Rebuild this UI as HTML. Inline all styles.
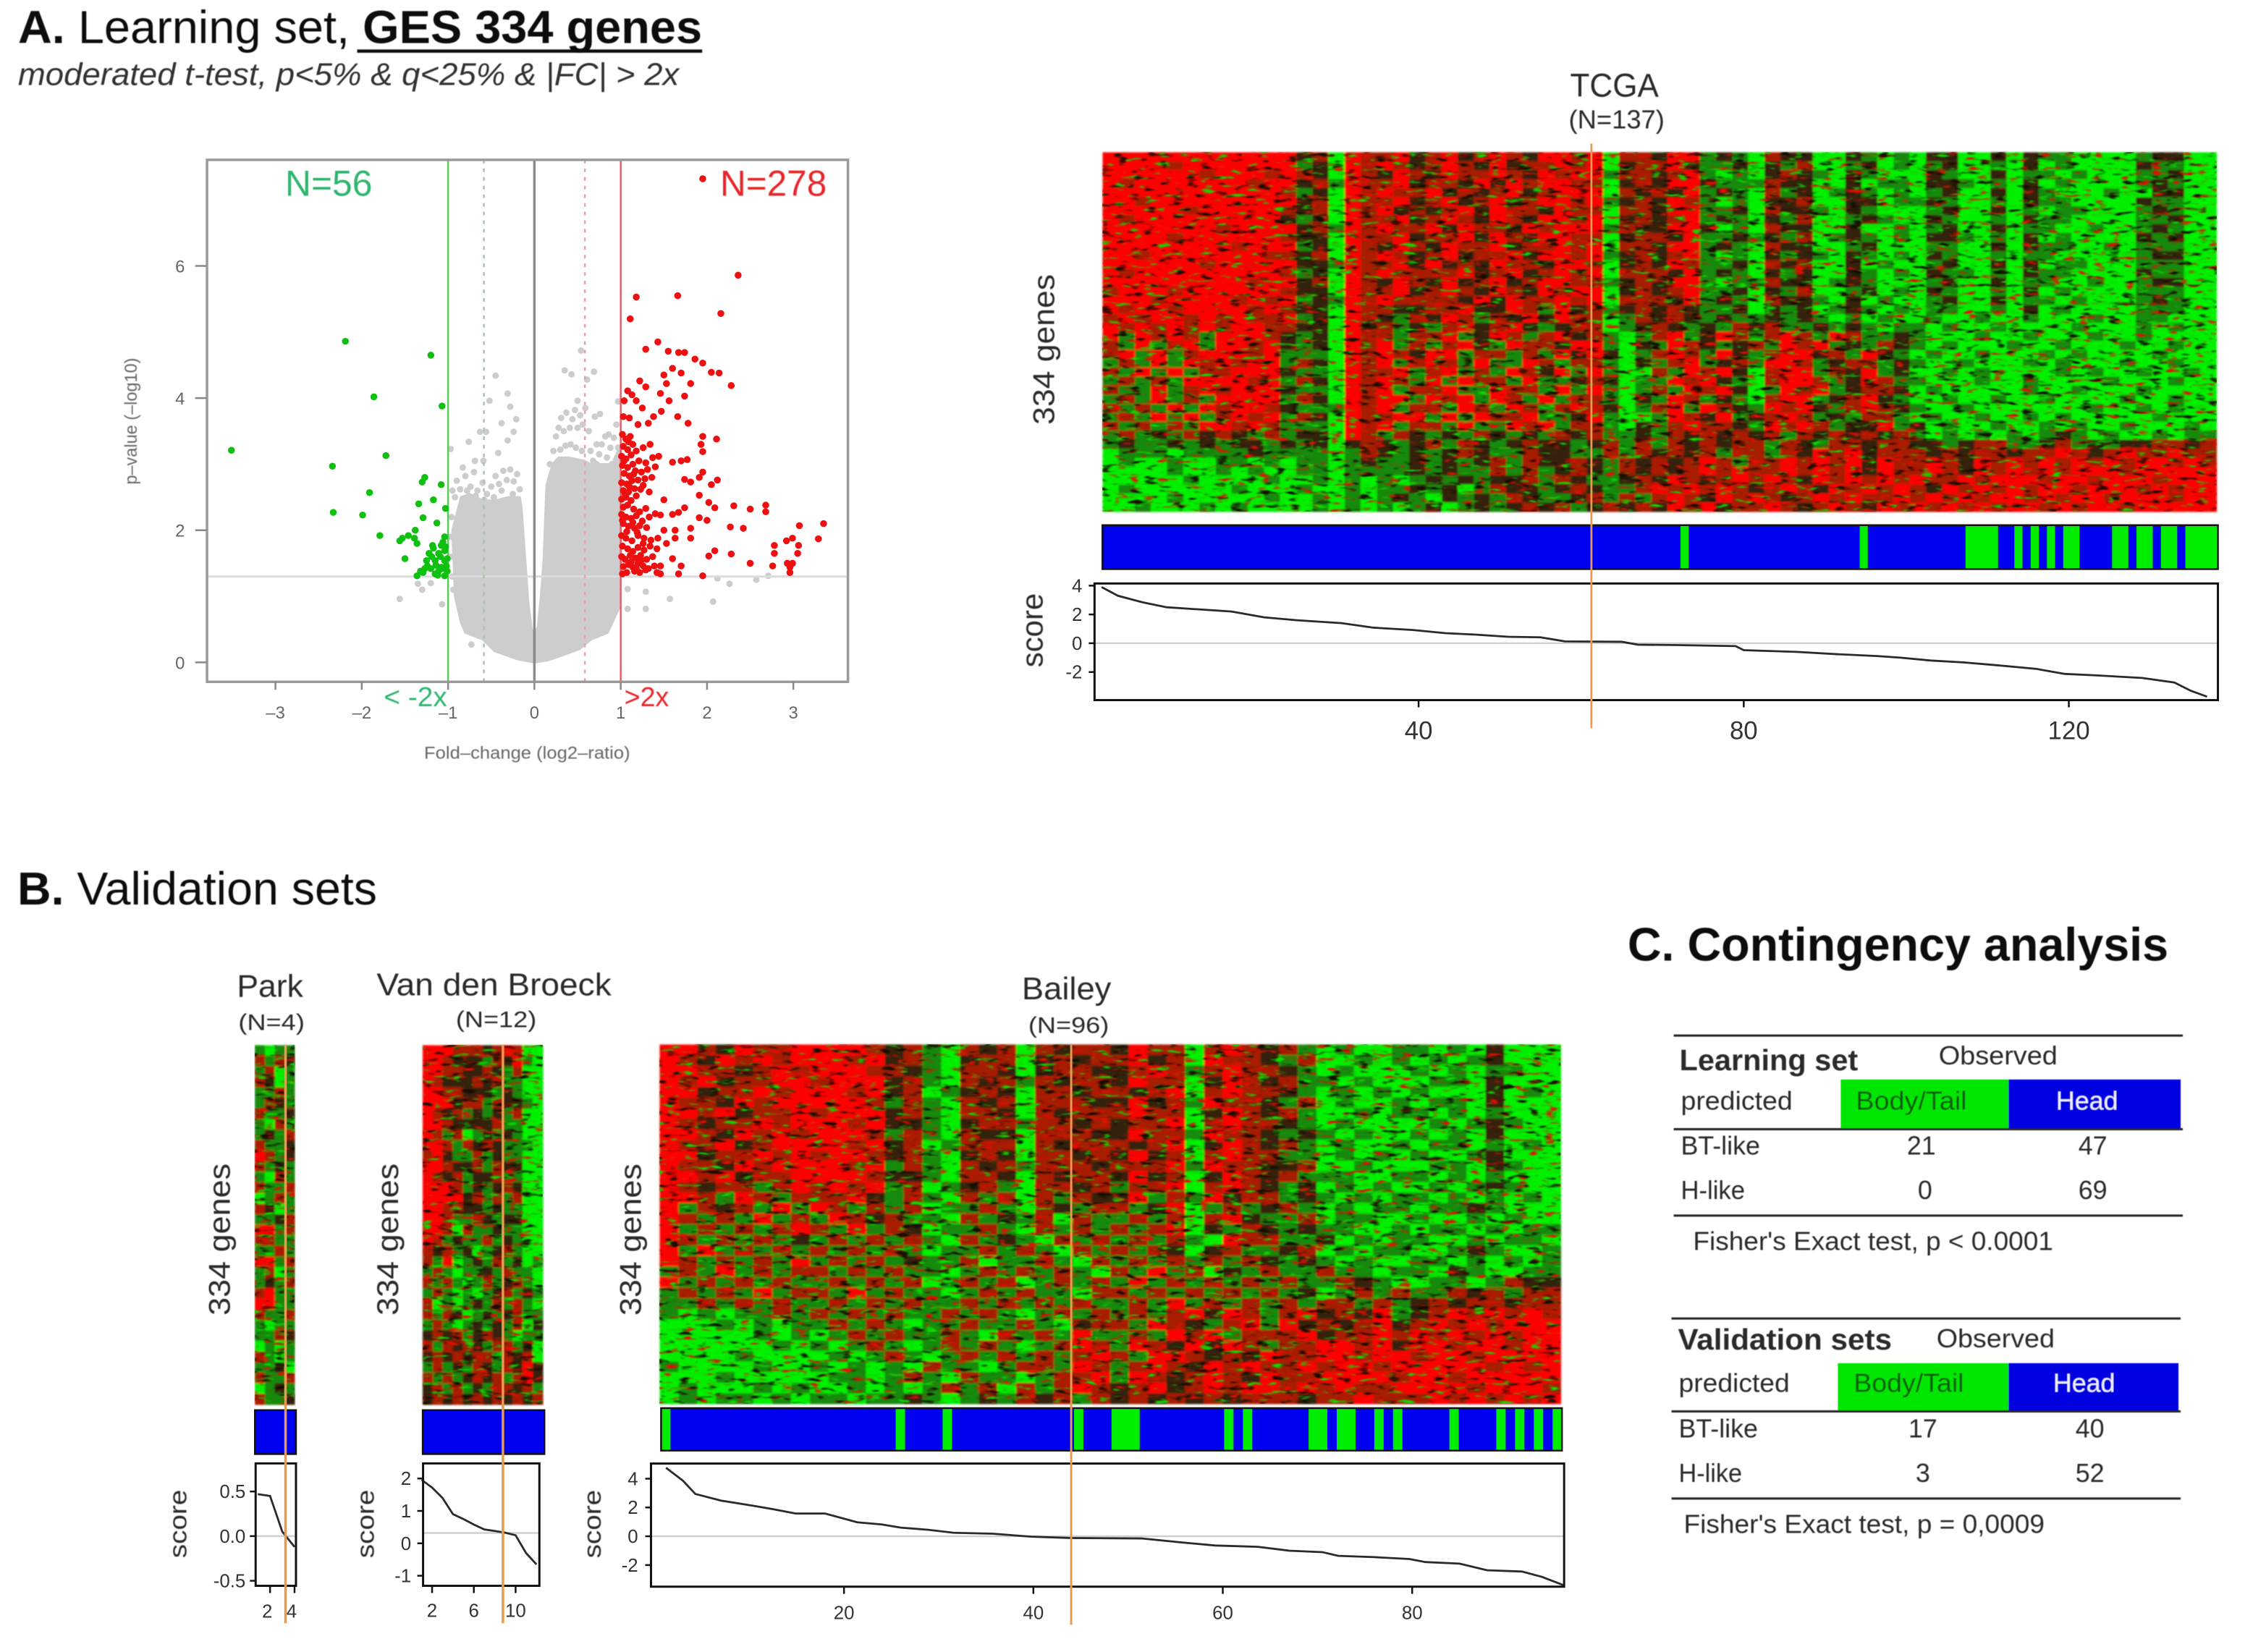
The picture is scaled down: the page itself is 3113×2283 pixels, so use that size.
<!DOCTYPE html>
<html lang="en">
<head>
<meta charset="utf-8">
<title>GES 334 genes figure</title>
<style>
html,body{margin:0;padding:0;background:#fff;width:3113px;height:2283px;overflow:hidden}
svg{display:block}
text{font-family:"Liberation Sans",Arial,sans-serif}
</style>
</head>
<body>
<svg id="figure" xmlns="http://www.w3.org/2000/svg" width="3113" height="2283" viewBox="0 0 3113 2283" fill="#2a2a2a">
<defs>
<filter id="soft" x="-1%" y="-1%" width="102%" height="102%"><feGaussianBlur stdDeviation="1.3"/></filter>
<filter id="softText" x="-2%" y="-5%" width="104%" height="110%"><feGaussianBlur stdDeviation="0.6"/></filter>
<filter id="speckDark" x="0" y="0" width="100%" height="100%" color-interpolation-filters="sRGB"><feTurbulence type="fractalNoise" baseFrequency="0.05 0.16" numOctaves="2" seed="3"/><feColorMatrix type="matrix" values="0 0 0 0 0.08  0 0 0 0 0.05  0 0 0 0 0  5 0 0 0 -2.95"/><feGaussianBlur stdDeviation="0.8"/></filter>
<filter id="speckGreen" x="0" y="0" width="100%" height="100%" color-interpolation-filters="sRGB"><feTurbulence type="fractalNoise" baseFrequency="0.05 0.16" numOctaves="2" seed="11"/><feColorMatrix type="matrix" values="0 0 0 0 0.05  0 0 0 0 0.85  0 0 0 0 0  5 0 0 0 -3.05"/><feGaussianBlur stdDeviation="0.8"/></filter>
<filter id="speckRed" x="0" y="0" width="100%" height="100%" color-interpolation-filters="sRGB"><feTurbulence type="fractalNoise" baseFrequency="0.05 0.16" numOctaves="2" seed="23"/><feColorMatrix type="matrix" values="0 0 0 0 0.9  0 0 0 0 0.05  0 0 0 0 0  5 0 0 0 -3.0"/><feGaussianBlur stdDeviation="0.8"/></filter>
</defs>
<rect width="3113" height="2283" fill="#fff"/>

<g id="plots"></g>

<g filter="url(#softText)">
<g transform="matrix(.995 0 0 .995 0 0)">
<text x="25" y="60" font-size="64" fill="#111" textLength="950" lengthAdjust="spacingAndGlyphs"><tspan font-weight="700">A.</tspan> Learning set, <tspan font-weight="700">GES 334 genes</tspan></text>
<line x1="496" y1="71" x2="975" y2="71" stroke="#111" stroke-width="4.5"/>
<text x="25" y="118" font-size="44" font-style="italic" fill="#333" textLength="918" lengthAdjust="spacingAndGlyphs">moderated  t-test, p&lt;5%  &amp; q&lt;25%  &amp; |FC|  &gt; 2x</text>
<text x="396" y="272" font-size="50" fill="#2fb56e" textLength="121" lengthAdjust="spacingAndGlyphs">N=56</text>
<text x="1000" y="272" font-size="50" fill="#e8262a" textLength="148" lengthAdjust="spacingAndGlyphs">N=278</text>
<text x="533" y="981" font-size="38" fill="#2fb56e" textLength="88" lengthAdjust="spacingAndGlyphs">&lt; -2x</text>
<text x="867" y="981" font-size="38" fill="#e8262a" textLength="62" lengthAdjust="spacingAndGlyphs">&gt;2x</text>
<text x="732" y="1054" font-size="24" text-anchor="middle" fill="#666" textLength="286" lengthAdjust="spacingAndGlyphs">Fold–change (log2–ratio)</text>
<text transform="translate(190 585) rotate(-90)" font-size="24" text-anchor="middle" fill="#666" textLength="176" lengthAdjust="spacingAndGlyphs">p–value (–log10)</text>
</g>

<g transform="matrix(.995 0 0 .995 6.9 .4)">
<text x="2235" y="134" font-size="46" text-anchor="middle" textLength="123" lengthAdjust="spacingAndGlyphs">TCGA</text>
<text x="2238" y="178" font-size="36" text-anchor="middle" textLength="133" lengthAdjust="spacingAndGlyphs">(N=137)</text>
<text transform="translate(1457 485) rotate(-90)" font-size="42" text-anchor="middle" textLength="209" lengthAdjust="spacingAndGlyphs">334  genes</text>
<text transform="translate(1441 875) rotate(-90)" font-size="42" text-anchor="middle" textLength="103" lengthAdjust="spacingAndGlyphs">score</text>
</g>

<text x="24" y="1250" font-size="64" fill="#111" textLength="497" lengthAdjust="spacingAndGlyphs"><tspan font-weight="700">B.</tspan> Validation sets</text>

<g transform="matrix(.995 0 0 .995 1 6.5)">
<text x="374" y="1378" font-size="44" text-anchor="middle" textLength="92" lengthAdjust="spacingAndGlyphs">Park</text>
<text x="376" y="1424" font-size="32" text-anchor="middle" textLength="92" lengthAdjust="spacingAndGlyphs">(N=4)</text>
<text transform="translate(318 1715) rotate(-90)" font-size="42" text-anchor="middle" textLength="211" lengthAdjust="spacingAndGlyphs">334  genes</text>
<text transform="translate(258 2110) rotate(-90)" font-size="34" text-anchor="middle" textLength="95" lengthAdjust="spacingAndGlyphs">score</text>
<text x="685" y="1376" font-size="44" text-anchor="middle" textLength="326" lengthAdjust="spacingAndGlyphs">Van den Broeck</text>
<text x="688" y="1420" font-size="32" text-anchor="middle" textLength="112" lengthAdjust="spacingAndGlyphs">(N=12)</text>
<text transform="translate(552 1715) rotate(-90)" font-size="42" text-anchor="middle" textLength="211" lengthAdjust="spacingAndGlyphs">334  genes</text>
<text transform="translate(518 2110) rotate(-90)" font-size="34" text-anchor="middle" textLength="95" lengthAdjust="spacingAndGlyphs">score</text>
</g>

<g transform="matrix(.995 0 0 .995 4 6.7)">
<text x="1477" y="1381" font-size="44" text-anchor="middle" textLength="124" lengthAdjust="spacingAndGlyphs">Bailey</text>
<text x="1480" y="1428" font-size="32" text-anchor="middle" textLength="112" lengthAdjust="spacingAndGlyphs">(N=96)</text>
<text transform="translate(886 1715) rotate(-90)" font-size="42" text-anchor="middle" textLength="211" lengthAdjust="spacingAndGlyphs">334  genes</text>
<text transform="translate(830 2110) rotate(-90)" font-size="34" text-anchor="middle" textLength="95" lengthAdjust="spacingAndGlyphs">score</text>
</g>

<g transform="matrix(.995 0 0 .995 11.1 6.3)">
<text x="2249" y="1328" font-size="65" font-weight="700" fill="#111" textLength="751" lengthAdjust="spacingAndGlyphs">C. Contingency analysis</text>

<g>
<line x1="2313" y1="1432" x2="3020" y2="1432" stroke="#222" stroke-width="3"/>
<text x="2321" y="1480" font-size="41" font-weight="700" textLength="248" lengthAdjust="spacingAndGlyphs">Learning  set</text>
<text x="2681" y="1472" font-size="36" textLength="165" lengthAdjust="spacingAndGlyphs">Observed</text>
<text x="2323" y="1535" font-size="36" textLength="155" lengthAdjust="spacingAndGlyphs">predicted</text>
<rect x="2545" y="1493" width="233" height="68" fill="#00e600"/>
<rect x="2778" y="1493" width="239" height="68" fill="#0000e0"/>
<text x="2566" y="1535" font-size="36" fill="#0a5a0a" textLength="154" lengthAdjust="spacingAndGlyphs">Body/Tail</text>
<text x="2887" y="1535" font-size="36" text-anchor="middle" fill="#eef" textLength="86" lengthAdjust="spacingAndGlyphs">Head</text>
<line x1="2313" y1="1562" x2="3020" y2="1562" stroke="#222" stroke-width="3"/>
<text x="2323" y="1597" font-size="36" textLength="110" lengthAdjust="spacingAndGlyphs">BT-like</text>
<text x="2657" y="1597" font-size="36" text-anchor="middle">21</text>
<text x="2895" y="1597" font-size="36" text-anchor="middle">47</text>
<text x="2323" y="1659" font-size="36" textLength="89" lengthAdjust="spacingAndGlyphs">H-like</text>
<text x="2662" y="1659" font-size="36" text-anchor="middle">0</text>
<text x="2895" y="1659" font-size="36" text-anchor="middle">69</text>
<line x1="2313" y1="1682" x2="3020" y2="1682" stroke="#222" stroke-width="3"/>
<text x="2340" y="1730" font-size="36" textLength="500" lengthAdjust="spacingAndGlyphs">Fisher's Exact test, p &lt;  0.0001</text>
</g>

<g>
<line x1="2310" y1="1825" x2="3017" y2="1825" stroke="#222" stroke-width="3"/>
<text x="2319" y="1868" font-size="41" font-weight="700" textLength="297" lengthAdjust="spacingAndGlyphs">Validation  sets</text>
<text x="2678" y="1865" font-size="36" textLength="164" lengthAdjust="spacingAndGlyphs">Observed</text>
<text x="2320" y="1927" font-size="36" textLength="154" lengthAdjust="spacingAndGlyphs">predicted</text>
<rect x="2541" y="1887" width="237" height="67" fill="#00e600"/>
<rect x="2778" y="1887" width="236" height="67" fill="#0000e0"/>
<text x="2563" y="1927" font-size="36" fill="#0a5a0a" textLength="153" lengthAdjust="spacingAndGlyphs">Body/Tail</text>
<text x="2883" y="1927" font-size="36" text-anchor="middle" fill="#eef" textLength="86" lengthAdjust="spacingAndGlyphs">Head</text>
<line x1="2310" y1="1954" x2="3017" y2="1954" stroke="#222" stroke-width="3"/>
<text x="2320" y="1990" font-size="36" textLength="110" lengthAdjust="spacingAndGlyphs">BT-like</text>
<text x="2659" y="1990" font-size="36" text-anchor="middle">17</text>
<text x="2891" y="1990" font-size="36" text-anchor="middle">40</text>
<text x="2320" y="2052" font-size="36" textLength="88" lengthAdjust="spacingAndGlyphs">H-like</text>
<text x="2659" y="2052" font-size="36" text-anchor="middle">3</text>
<text x="2891" y="2052" font-size="36" text-anchor="middle">52</text>
<line x1="2310" y1="2075" x2="3017" y2="2075" stroke="#222" stroke-width="3"/>
<text x="2327" y="2123" font-size="36" textLength="501" lengthAdjust="spacingAndGlyphs">Fisher's Exact test, p =  0,0009</text>
</g>
</g>
</g>
</svg>

<script>
/* ---------- chart data (values estimated by eye from the figure) ---------- */
const volcanoXTicks = [-3,-2,-1,0,1,2,3];
const volcanoYTicks = [0,2,4,6];
const foldThresholds = [-1,1];
const softThresholds = [-0.585,0.585];
const pThreshold = 1.3;

const cloudLeftX = [0,-0.2,-0.46,-0.6,-0.8,-0.85,-0.92,-0.95,-0.85,-0.75,-0.6,-0.45,-0.3,-0.17,-0.15,-0.11,-0.07,-0.03,0];
const cloudLeftY = [0,0.05,0.17,0.35,0.45,0.6,1.0,2.0,2.5,2.55,2.45,2.45,2.5,2.5,2.35,1.62,0.89,0.49,0.45];
const cloudRightX = [0,0.15,0.29,0.52,0.66,0.85,0.99,1.0,1.0,0.9,0.75,0.65,0.58,0.4,0.28,0.21,0.14,0.125,0.11,0.08,0.04,0];
const cloudRightY = [0,0.03,0.09,0.2,0.35,0.45,0.85,1.6,3.3,3.0,3.0,3.0,3.05,3.1,3.1,3.0,2.68,2.17,1.62,1.07,0.53,0.45];

const grayPoints = [[-0.45,4.34],[-0.52,3.96],[-0.31,4.07],[-0.28,3.87],[-0.21,3.68],[-0.24,3.49],[-0.56,3.49],[-0.63,3.49],[-0.76,3.34],[-0.97,3.23],[-0.38,3.62],[-0.31,3.36],[-0.42,3.17],[-0.59,3.05],[-0.69,3.05],[-0.83,2.95],[0.54,4.72],[0.35,4.42],[0.43,4.36],[0.69,4.4],[0.61,4.28],[0.5,3.96],[0.76,3.76],[0.97,3.95],[0.82,3.42],[-1.56,0.96],[-1.35,1.19],[-1.07,0.88],[1.08,1.11],[1.29,1.07],[1.08,0.81],[1.29,0.81],[1.57,0.96],[2.07,0.92],[2.12,1.27],[2.26,1.19],[2.57,1.25],[2.71,1.31],[-0.73,0.27],[-1.3,1.1],[-1.2,1.2],
[-0.95,2.6],[-0.9,2.75],[-0.86,2.62],[-0.8,2.82],[-0.74,2.66],[-0.7,2.88],[-0.66,2.6],[-0.6,2.72],[-0.55,2.55],[-0.5,2.66],[-0.45,2.82],[-0.41,2.7],[-0.36,2.9],[-0.32,2.76],[-0.28,2.92],[-0.24,2.74],[-0.2,2.85],[-0.17,2.62],[-0.92,2.5],[-0.68,2.52],[-0.58,2.46],[-0.47,2.5],[-0.96,2.2],[-0.97,1.9],[-0.96,1.6],[-0.95,1.3],[-0.94,1.1],[-0.78,2.6],[-0.25,2.55],[-0.38,2.6],
[0.22,3.2],[0.25,3.42],[0.28,3.55],[0.31,3.7],[0.34,3.5],[0.37,3.78],[0.41,3.55],[0.44,3.68],[0.47,3.82],[0.5,3.55],[0.53,3.74],[0.56,3.6],[0.59,3.85],[0.63,3.5],[0.65,3.2],[0.68,3.05],[0.72,3.0],[0.75,3.15],[0.8,2.95],[0.84,3.1],[0.88,3.25],[0.92,3.4],[0.95,3.6],[0.97,3.25],[0.9,3.0],[0.7,3.72],[0.72,3.3],[0.18,3.0],[0.23,2.95],[0.3,3.22],[0.36,3.28],[0.42,3.3],[0.48,3.25],[0.55,3.2],[0.78,3.3],[0.86,3.45]];

const greenPoints = [[-3.51,3.21],[-2.19,4.86],[-1.86,4.02],[-1.2,4.65],[-1.07,3.88],[-1.72,3.13],[-2.34,2.97],[-1.91,2.57],[-2.33,2.27],[-1.99,2.23],[-1.79,1.92],[-1.27,2.8],[-1.3,2.73],[-1.08,2.69],[-1.34,2.4],[-1.17,2.46],[-1.03,2.33],[-1.29,2.19],[-1.13,2.11],[-1.04,1.9],[-1.53,1.88],[-1.46,1.92],[-1.38,2.0],[-1.36,1.8],[-1.56,1.84],[-1.39,1.88],[-1.5,1.57],[-1.18,1.77],[-1.08,1.77],[-1.04,1.69],[-1.22,1.65],[-1.11,1.65],[-1.25,1.54],[-1.15,1.54],[-1.04,1.54],[-1.2,1.42],[-1.08,1.44],[-1.01,1.38],[-1.29,1.36],[-1.36,1.31],[-1.15,1.34],[-1.04,1.31],[-1.24,1.46],[-1.01,1.57],[-1.11,1.38],[-1.17,1.73],[-1.32,1.38],[-1.06,1.82],[-1.14,1.47],[-1.02,1.46],[-1.27,1.42],[-1.09,1.6],[-1.19,1.6],[-1.03,1.75],[-1.12,1.32],[-1.06,1.42]];

const redPoints = [[1.95,7.32],[2.36,5.86],[1.18,5.53],[1.66,5.55],[2.16,5.28],[1.11,5.2],[1.43,4.85],[1.29,4.74],[1.55,4.71],[1.67,4.69],[1.74,4.69],[1.86,4.59],[1.95,4.53],[2.05,4.39],[2.14,4.38],[2.28,4.19],[1.6,4.45],[1.5,4.35],[1.7,4.38],[1.22,4.26],[1.29,4.17],[1.53,4.22],[1.81,4.22],[1.08,4.11],[1.46,4.07],[1.56,3.96],[1.74,4.03],[1.18,3.96],[1.04,3.96],[1.13,4.05],[1.25,3.85],[1.38,3.72],[1.47,3.8],[1.32,3.62],[1.1,3.7],[1.03,3.72],[1.2,3.6],[1.66,3.72],[1.78,3.62],
[1.95,3.42],[2.11,3.38],[1.93,3.3],[1.6,3.03],[1.7,3.05],[1.77,3.07],[1.95,3.19],[1.74,2.77],[1.81,2.73],[1.91,2.8],[1.95,2.88],[2.05,2.69],[2.12,2.76],[1.91,2.53],[2.02,2.42],[2.09,2.34],[2.31,2.37],[2.5,2.32],[2.68,2.38],[2.68,2.28],[1.74,2.34],[1.67,2.27],[1.5,2.46],[1.91,2.19],[2,2.15],[1.46,2.23],[1.6,2.24],[2.27,2.05],[2.42,2.03],[3.35,2.1],[3.07,2.07],[1.81,2.03],[1.63,2],[1.5,2],[1.43,1.88],[1.63,1.88],[1.81,1.88],[1.53,1.8],[2.09,1.69],[2.02,1.61],[2.28,1.64],[2.78,1.77],[2.78,1.65],[2.92,1.84],[2.99,1.88],[3.06,1.77],[3.05,1.65],[3.29,1.87],[2.76,1.46],[2.5,1.5],[2.93,1.5],[2.99,1.5],[2.96,1.44],[2.96,1.36],[1.95,1.31],[1.67,1.34],[1.46,1.34],[1.6,1.57],[1.7,1.46],[1.46,1.46],
[1.02,3.45],[1.06,3.38],[1.11,3.42],[1.03,3.27],[1.08,3.22],[1.14,3.3],[1.01,3.12],[1.06,3.08],[1.12,3.14],[1.18,3.2],[1.26,3.25],[1.34,3.3],[1.02,2.98],[1.08,2.95],[1.14,3.0],[1.21,3.05],[1.29,3.02],[1.37,3.1],[1.44,3.12],[1.04,2.86],[1.1,2.82],[1.17,2.9],[1.24,2.88],[1.31,2.92],[1.4,2.96],[1.01,2.72],[1.07,2.7],[1.13,2.75],[1.2,2.76],[1.28,2.78],[1.36,2.8],[1.03,2.6],[1.09,2.58],[1.16,2.63],[1.23,2.62],[1.01,2.47],[1.06,2.5],[1.12,2.45],[1.03,2.35],[1.08,2.38],[1.15,2.32],[1.22,2.28],[1.29,2.33],[1.01,2.24],[1.06,2.2],[1.12,2.18],[1.18,2.22],[1.25,2.14],[1.33,2.2],[1.4,2.25],[1.03,2.1],[1.09,2.06],[1.16,2.03],[1.22,2.07],[1.3,2.04],[1.01,1.92],[1.06,1.88],[1.13,1.84],[1.2,1.92],[1.27,1.88],[1.35,1.85],[1.02,1.76],[1.08,1.72],[1.14,1.68],[1.2,1.74],[1.27,1.7],[1.34,1.76],[1.42,1.72],[1.01,1.6],[1.05,1.56],[1.11,1.62],[1.17,1.58],[1.23,1.62],[1.3,1.56],[1.37,1.6],[1.03,1.45],[1.09,1.48],[1.14,1.44],[1.2,1.5],[1.26,1.46],[1.32,1.42],[1.39,1.46],[1.02,1.34],[1.07,1.36],[1.16,1.38],[1.22,1.36],[1.29,1.4],[1.42,1.36],[1.04,3.05],[1.1,2.66],[1.18,2.52],[1.05,2.55],[1.09,3.34],[1.15,2.85],[1.26,2.68],[1.33,2.58],[1.02,2.15],[1.14,2.12],[1.07,1.98],[1.19,1.97],[1.26,1.8],[1.12,1.52],[1.24,1.55],[1.18,1.42]];

const heatValueColors = ['#00f000','#128a0c','#35230a','#a81c06','#ff0000'];

const tcgaRows = [
"4444444444 4423043342 3423432443 4033244121 0322002101 0220020211 000012200",
"4444344444 4412043432 3432423343 4023342112 0213001201 0120010201 000021100",
"4444443444 3432043243 2433432434 4133234101 0232102100 0210020110 100011200",
"4344444443 4423143342 3324243443 3023244211 1322002011 0221010201 000012100",
"4444444444 4312043433 4232342344 4032324121 0312012101 0120020210 001002200",
"4434444444 4423043342 3423423443 4123243101 0223002201 1210010211 000021100",
"4444434444 4323043423 2342433243 3033244112 0322102100 0120020101 100012100",
"4344444444 4212043342 3432432443 4023234121 0213001210 0210010211 000011200",
"4444444344 4423143433 4243324344 4132244201 0322002001 0120020110 010012100",
"4444344444 4322043342 3342432443 3023324112 1213012101 0221010201 000021200",
"4444444434 4412043243 2433423343 4033244121 0322001200 0110020211 001011100",
"4434444444 3323043432 3423342443 4123234101 0212102101 0210010110 000012200",
"4444443444 4422143342 4232433244 3023243112 0323002010 0120020201 100011100",
"4344444444 4312043433 3342342343 4033324121 0212002101 0211010211 000021100",
"4444444443 4423043243 2423423443 3123244101 1322012100 0120020110 010012200",
"3444344444 4322043342 3432432434 4023234112 0213001201 0210010201 000011100",
"4443444434 3412143433 3324243343 4033324121 0322102010 0120020110 100012100",
"4344344443 4322043322 3342243142 3123232112 0212012101 0110010201 000011100",
"3434434343 3412043213 2431324243 3013232121 1212101010 0100100100 010011000",
"4343434344 3322042312 1342342123 3012321213 2311212101 1010010000 100010100",
"4143431444 3212043313 3412431342 3101341243 1343143112 1000100100 010010000",
"3141341443 4212043413 1342143324 4102143212 3143412132 1010001001 000100100",
"3414134443 4111043432 4413313142 4201343142 1344231421 0100100010 100001000",
"1314143434 4132043413 4314114313 3102134123 1443123312 1001000101 000100100",
"3141413344 4211043341 3413143241 4100314342 0344132412 0010100001 010010010",
"1313144443 4132043431 4143314112 3201143421 0344312431 1000100100 001000100",
"3114134344 4211043413 3411433141 4101314342 0143412332 0100000100 100010000",
"1314131444 4132043441 4341431413 3102143121 0344123421 0010010010 000100100",
"3131414344 3211143413 3143143134 3201341432 1434213432 1001000000 010010100",
"1314141343 4132043344 1414334112 4100143241 2343121331 0100100101 000001000",
"3131314434 3111043413 3141143413 3102134332 1434312241 2010010010 100100010",
"1312132321 3122043132 1213212132 3112132323 2313232323 1010101012 101001011",
"1211212122 1212023212 3132123221 2313132323 3132133233 2212331123 121223323",
"0111011112 1111013212 1232113221 1313232313 3132434233 3232332334 323433433",
"0100100110 1011012112 1212313223 2132323431 3343434243 3432434343 434344343",
"0000100101 0011011112 1211313123 2132323434 3343434243 3432434343 444344444",
"0000010000 1001010101 2121223132 1123243234 3432434343 4334344434 434443444",
"0100000010 0010010112 1201322123 2113434343 2343243434 3243434344 344434344",
"0000100000 1001010121 0212132112 3131343243 4323434334 3434344343 443444344",
"0010001010 0001010101 2012123231 2323243423 3432343243 4343434434 344344444"
];

const baileyRows = [
"44324334 44432310 32303233 24330343 23101001 10102000",
"43243434 44342310 23302323 34230433 21300101 01012000",
"44332343 44433210 33202332 23431343 32101000 10101100",
"43423344 34442310 32313233 24330243 23110100 01102000",
"44233434 44342301 23203323 32340343 32101010 10002010",
"43324344 44431310 32303332 24231433 21301001 01102000",
"44342334 34442310 33203233 34330243 23100101 10101000",
"43233434 44342210 23313323 23340343 32101000 01012100",
"44324343 44431310 32203332 24331433 21210100 10102000",
"43342344 44342301 33303233 32340243 23101001 01101010",
"44233434 34432310 23203323 24230343 31101010 10012000",
"43324344 44341310 32313332 33341433 22300100 01102100",
"44342334 44432210 33203233 24230243 23111001 10101000",
"43233134 34341301 23103323 13340343 21201010 01012100",
"44314313 33421310 31303132 24131423 31210101 10101010",
"41323141 43131301 13103213 31240131 23101011 01121000",
"43131413 14323110 31213031 13130342 11301100 10010100",
"41313134 31413201 13103131 31340213 21211001 01101011",
"43131312 13131310 31210313 13131043 31120101 10010110",
"41413131 31313101 13131031 31320231 12301011 00121001",
"43131314 13131211 30113103 13131313 21210100 11010101",
"13141313 31313110 13131310 31413021 31131101 10210011",
"41313131 13131301 31301313 14131313 13113210 01101322",
"13131413 31413110 13131103 31313131 31201313 11323133",
"11313131 13131311 31313131 13141313 13133131 23233233",
"10101131 31313113 13101313 13134243 13423241 23434343",
"00010101 13131011 31131023 31432134 14232342 34343444",
"00000101 01313113 10313141 13143413 33423343 43434344",
"00000010 10131013 13101343 14324243 13344342 44344344",
"00001000 01013101 31313134 31443232 43344344 34434444",
"10000100 10101031 10133143 13432434 33434434 44443434",
"00010000 01101310 31101334 14323432 43344443 44344444",
"01000101 00101013 13031343 23423434 43434334 44434443",
"01011010 11011210 12132313 23232323 33233433 34343434"
];

const broeckRows = ["444333234300","443222132410","443322321300","432223231100","443322212100","444233132210","432312121300","443222231100","431301212100","443132321110","342113121100","443223132200","432312231100","444312123200","444423131300","443322121100","443113212200","443031121100","431211312100","323120123100","314012131201","131011213110","313101312310","131010123121","301012131310","313201212311","131012121302","232312321011","313232133120","232323313230","131213213242","313123231342","231312133231","232323232323"];

const parkRows = ["1011","3132","1301","3201","1131","1321","3112","1031","1213","3112","4312","3121","1031","3113","0131","3201","1123","4413","3311","1131","4413","1301","1213","3411","4411","3113","1011","1132","0101","3101","1120","3113","0121","3112"];

const tcgaGreenRanges = [[71,72],[93,94],[106,110],[112,113],[114,115],[116,117],[118,120],[124,126],[127,129],[130,132],[133,137]];
const tcgaSampleCount = 137;
const baileyGreenRanges = [[0,1],[25,26],[30,31],[44,45],[48,51],[60,61],[62,63],[69,71],[72,74],[76,77],[78,79],[84,85],[89,90],[91,92],[93,94],[95,96]];
const baileySampleCount = 96;
const parkGreenRanges = [];
const parkSampleCount = 4;
const broeckGreenRanges = [];
const broeckSampleCount = 12;

const tcgaScoreIndex = [1,3,6,9,13,17,21,25,30.5,34.5,39.3,43.3,47,51,55,58,65,67,72,79,80,86.5,91.5,96.4,99.3,103,107,111,116,119.5,123,129,133,135,137];
const tcgaScoreValue = [3.9,3.3,2.85,2.5,2.35,2.2,1.8,1.6,1.4,1.08,0.92,0.7,0.6,0.45,0.41,0.13,0.1,-0.1,-0.13,-0.2,-0.48,-0.6,-0.76,-0.89,-1,-1.2,-1.33,-1.52,-1.78,-2.13,-2.22,-2.41,-2.73,-3.3,-3.71];
const tcgaXTicks = [40,80,120];
const tcgaYTicks = [-2,0,2,4];

const baileyScoreIndex = [1.2,3,4.3,7,10.4,12.5,14.9,18,21.4,24,26,28.9,31.6,35.7,39.8,43.9,51.4,55.5,59.2,63.7,67,70.5,72.2,76,79.7,81.4,85,87.9,91.6,93.7,96];
const baileyScoreValue = [4.76,3.85,2.94,2.48,2.12,1.88,1.58,1.58,0.97,0.82,0.6,0.45,0.24,0.18,-0.03,-0.12,-0.15,-0.42,-0.64,-0.73,-1,-1.1,-1.36,-1.45,-1.58,-1.79,-1.9,-2.36,-2.45,-2.82,-3.4];
const baileyXTicks = [20,40,60,80];
const baileyYTicks = [-2,0,2,4];

const parkScoreIndex = [1,2,3,4];
const parkScoreValue = [0.47,0.45,0.05,-0.12];
const parkXTicks = [2,4];
const parkYTicks = ['-0.5','0.0','0.5'];

const broeckScoreIndex = [1,2,3,4,5,6,7,8,9,10,11,12];
const broeckScoreValue = [1.96,1.72,1.4,0.9,0.75,0.58,0.43,0.38,0.33,0.25,-0.3,-0.65];
const broeckXTicks = [2,6,10];
const broeckYTicks = [-1,0,1,2];

/* ---------- helpers ---------- */
const NS = 'http://www.w3.org/2000/svg';
const root = document.getElementById('plots');
let current = root;
function mk(tag, attrs, parent) {
  const el = document.createElementNS(NS, tag);
  for (const k in attrs) el.setAttribute(k, attrs[k]);
  (parent || current).appendChild(el);
  return el;
}
function linear(d0, r0, d1, r1) {
  return function (v) { return r0 + (Number(v) - d0) * (r1 - r0) / (d1 - d0); };
}
function label(str, x, y, size, anchor, colour, parent) {
  const t = mk('text', {x: x, y: y, 'font-size': size, 'text-anchor': anchor, fill: colour}, parent);
  t.textContent = str;
  return t;
}

/* ---------- volcano plot ---------- */
const vx = linear(-3, 382.5, 3, 1101.7);
const vy = linear(0, 920, 6, 369.4);
const volcano = mk('g', {transform: 'matrix(.995 0 0 .995 0 0)'}, root);



function cloud(xs, ys, name) {
  const pts = xs.map(function (x, i) { return vx(x).toFixed(1) + ',' + vy(ys[i]).toFixed(1); }).join(' ');
  const poly = mk('polygon', {points: pts, fill: '#cdcdcd', stroke: '#cdcdcd', 'stroke-width': 3}, volcano);
  
  
}
cloud(cloudLeftX, cloudLeftY, 'gray-cloud-left');
cloud(cloudRightX, cloudRightY, 'gray-cloud-right');

grayPoints.forEach(function (p) {
  const c = mk('circle', {cx: vx(p[0]), cy: vy(p[1]), r: 4.5, fill: '#cdcdcd'}, volcano);
  
  
});

const pLine = mk('line', {x1: 288, x2: 1176, y1: vy(pThreshold), y2: vy(pThreshold), stroke: '#dcdcdc', 'stroke-width': 3}, volcano);



const zeroLine = mk('line', {x1: vx(0), x2: vx(0), y1: 222, y2: 947, stroke: '#8a8a8a', 'stroke-width': 3.5}, volcano);



foldThresholds.forEach(function (v) {
  const l = mk('line', {x1: vx(v), x2: vx(v), y1: 222, y2: 947, stroke: v < 0 ? '#5cc85c' : '#e4606a', 'stroke-width': 2.5}, volcano);
  
  
});
softThresholds.forEach(function (v) {
  const l = mk('line', {x1: vx(v), x2: vx(v), y1: 222, y2: 947, stroke: v < 0 ? '#a9c4a9' : '#ee9fa8', 'stroke-width': 2.5, 'stroke-dasharray': '5 7'}, volcano);
  
  
});

greenPoints.forEach(function (p) {
  const c = mk('circle', {cx: vx(p[0]), cy: vy(p[1]), r: 4.8, fill: '#10c010'}, volcano);
  
  
});
redPoints.forEach(function (p) {
  const c = mk('circle', {cx: vx(p[0]), cy: vy(p[1]), r: 4.8, fill: '#ee1010'}, volcano);
  
  
});

const vFrame = mk('rect', {x: 287.5, y: 222, width: 890, height: 725, fill: 'none', stroke: '#9a9a9a', 'stroke-width': 3.5}, volcano);



volcanoXTicks.forEach(function (v) {
  const t = mk('line', {x1: vx(v), x2: vx(v), y1: 947, y2: 958, stroke: '#888', 'stroke-width': 2.5}, volcano);
  
  
  const l = label(v < 0 ? '–' + Math.abs(v) : String(v), vx(v), 998, 24, 'middle', '#666', volcano);
  
  
});
volcanoYTicks.forEach(function (v) {
  const t = mk('line', {x1: 271, x2: 287, y1: vy(v), y2: vy(v), stroke: '#888', 'stroke-width': 2.5}, volcano);
  
  
  const l = label(String(v), 250, vy(v) + 9, 24, 'middle', '#666', volcano);
  
  
});

/* ---------- heatmap + annotation bar + score panel ---------- */
function drawHeat(rows, box, name) {
  const g = mk('g', {'shape-rendering': 'crispEdges', filter: 'url(#soft)'});
  
  
  const rowH = box.h / rows.length;
  rows.forEach(function (row, r) {
    const cells = row.replace(/\s/g, '');
    const colW = box.w / cells.length;
    for (let c = 0; c < cells.length; c++) {
      const rect = mk('rect', {x: box.x + c * colW, y: box.y + r * rowH, width: colW + 0.6, height: rowH + 0.6, fill: heatValueColors[Number(cells[c])]}, g);
      
      
    }
  });
  ['speckRed', 'speckGreen', 'speckDark'].forEach(function (id) {
    const tex = mk('rect', {x: box.x, y: box.y, width: box.w, height: box.h, fill: '#000', filter: 'url(#' + id + ')'});
    
    
  });
}

function drawBar(count, ranges, box, name) {
  const g = mk('g', {});
  
  
  const bg = mk('rect', {x: box.x, y: box.y, width: box.w, height: box.h, fill: '#0000f0'}, g);
  
  
  const sx = linear(0, box.x, count, box.x + box.w);
  ranges.forEach(function (rng) {
    const seg = mk('rect', {x: sx(rng[0]), y: box.y, width: sx(rng[1]) - sx(rng[0]), height: box.h, fill: '#00ec00'}, g);
    
    
  });
  const fr = mk('rect', {x: box.x, y: box.y, width: box.w, height: box.h, fill: 'none', stroke: '#111', 'stroke-width': 2.5}, g);
  
  
}

function drawScore(cfg) {
  const g = mk('g', {});
  
  
  const b = cfg.box;
  const hl = mk('line', {x1: b.x, x2: b.x + b.w, y1: cfg.y(cfg.refValue), y2: cfg.y(cfg.refValue), stroke: '#cfcfcf', 'stroke-width': 2.5}, g);
  
  
  const pts = cfg.index.map(function (i, k) { return cfg.x(i).toFixed(1) + ',' + cfg.y(cfg.value[k]).toFixed(1); }).join(' ');
  const line = mk('polyline', {points: pts, fill: 'none', stroke: '#2a2a2a', 'stroke-width': 2.8}, g);
  
  
  const fr = mk('rect', {x: b.x, y: b.y, width: b.w, height: b.h, fill: 'none', stroke: '#111', 'stroke-width': 3}, g);
  
  
  cfg.xTicks.forEach(function (v) {
    const t = mk('line', {x1: cfg.x(v), x2: cfg.x(v), y1: b.y + b.h, y2: b.y + b.h + 10, stroke: '#111', 'stroke-width': 2.5}, g);
    
    
    const l = label(String(v), cfg.x(v) - cfg.xLabelShift, cfg.xLabelY, cfg.xFont, 'middle', '#333', g);
    
    
  });
  cfg.yTicks.forEach(function (v) {
    const t = mk('line', {x1: b.x - 8, x2: b.x, y1: cfg.y(v), y2: cfg.y(v), stroke: '#111', 'stroke-width': 2.5}, g);
    
    
    const l = label(String(v), cfg.yLabelX, cfg.y(v) + 9, 26, 'end', '#333', g);
    
    
  });
}

function splitLine(x, y1, y2, w, name) {
  const l = mk('line', {x1: x, x2: x, y1: y1, y2: y2, stroke: '#ea9a4e', 'stroke-width': w});
  
  
}

/* TCGA */
current = mk('g', {transform: 'matrix(.995 0 0 .995 6.9 .4)'}, root);


drawHeat(tcgaRows, {x: 1524, y: 211, w: 1547, h: 499}, 'tcga');
drawBar(tcgaSampleCount, tcgaGreenRanges, {x: 1524, y: 729, w: 1549, h: 61}, 'tcga');
drawScore({name: 'tcga', box: {x: 1513, y: 810, w: 1560, h: 162},
  x: linear(40, 1963, 120, 2866), y: linear(0, 893, 4, 813), refValue: 0,
  index: tcgaScoreIndex, value: tcgaScoreValue, xTicks: tcgaXTicks, yTicks: tcgaYTicks,
  xLabelShift: 0, xLabelY: 1026, xFont: 35, yLabelX: 1496});
splitLine(2203, 199, 1011, 2.8, 'tcga');

/* Park and Van den Broeck */
current = mk('g', {transform: 'matrix(.995 0 0 .995 1 6.5)'}, root);


drawHeat(parkRows, {x: 353, y: 1445, w: 55, h: 499}, 'park');
drawBar(parkSampleCount, parkGreenRanges, {x: 353, y: 1952, w: 57, h: 61}, 'park');
drawScore({name: 'park', box: {x: 354, y: 2026, w: 56, h: 170},
  x: linear(2, 374, 4, 408), y: linear(0, 2127, 0.5, 2065), refValue: 0,
  index: parkScoreIndex, value: parkScoreValue, xTicks: parkXTicks, yTicks: parkYTicks,
  xLabelShift: 4, xLabelY: 2240, xFont: 26, yLabelX: 340});
splitLine(395.5, 1445, 2248, 3.5, 'park');

drawHeat(broeckRows, {x: 586, y: 1445, w: 166.5, h: 499}, 'van-den-broeck');
drawBar(broeckSampleCount, broeckGreenRanges, {x: 586, y: 1952, w: 169, h: 61}, 'van-den-broeck');
drawScore({name: 'van-den-broeck', box: {x: 586.5, y: 2026, w: 161.5, h: 170},
  x: linear(2, 599, 10, 715), y: linear(0, 2137, 2, 2047), refValue: 0.32,
  index: broeckScoreIndex, value: broeckScoreValue, xTicks: broeckXTicks, yTicks: broeckYTicks,
  xLabelShift: 0, xLabelY: 2239, xFont: 26, yLabelX: 570});
splitLine(697.4, 1445, 2248, 3.5, 'van-den-broeck');

/* Bailey */
current = mk('g', {transform: 'matrix(.995 0 0 .995 4 6.7)'}, root);


drawHeat(baileyRows, {x: 912, y: 1444, w: 1251, h: 499}, 'bailey');
drawBar(baileySampleCount, baileyGreenRanges, {x: 914, y: 1949, w: 1251, h: 59}, 'bailey');
drawScore({name: 'bailey', box: {x: 900, y: 2026, w: 1268, h: 171},
  x: linear(20, 1168, 80, 1957), y: linear(0, 2127, 4, 2047), refValue: 0,
  index: baileyScoreIndex, value: baileyScoreValue, xTicks: baileyXTicks, yTicks: baileyYTicks,
  xLabelShift: 0, xLabelY: 2242, xFont: 26, yLabelX: 882});
splitLine(1483.5, 1444, 2250, 3, 'bailey');
</script>
</body>
</html>
